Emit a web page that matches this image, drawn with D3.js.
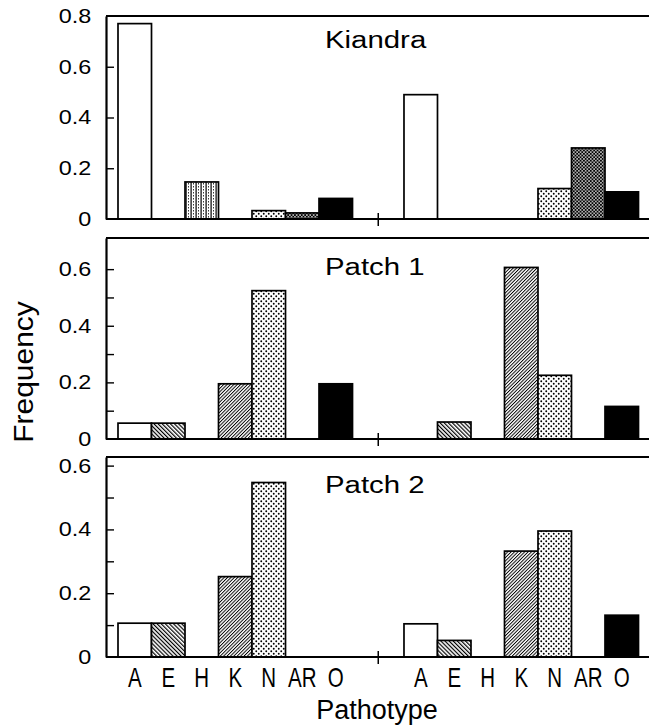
<!DOCTYPE html>
<html>
<head>
<meta charset="utf-8">
<script src="https://cdn.jsdelivr.net/npm/d3@7"></script>
<style>
  html, body { margin: 0; padding: 0; background: #fff; }
  svg { display: block; font-family: "Liberation Sans", Arial, Helvetica, sans-serif; }
  svg text { fill: #000; }
</style>
</head>
<body>
<svg id="chart" width="649" height="725"></svg>
<script>
'use strict';

// Pathotypes, in the order the bars are drawn inside each group.
var categories = ['A', 'E', 'H', 'K', 'N', 'AR', 'O'];
var panelNames = ['Kiandra', 'Patch 1', 'Patch 2'];

// Frequencies (left group, right group).
var kiandraLeft = [0.77, 0, 0.146, 0, 0.033, 0.024, 0.081];
var kiandraRight = [0.49, 0, 0, 0, 0.12, 0.28, 0.107];
var patch1Left = [0.056, 0.056, 0, 0.195, 0.524, 0, 0.195];
var patch1Right = [0, 0.06, 0, 0.606, 0.225, 0, 0.115];
var patch2Left = [0.106, 0.106, 0, 0.252, 0.547, 0, 0];
var patch2Right = [0.104, 0.052, 0, 0.332, 0.395, 0, 0.131];

// Tick values.
var kiandraLabels = [0, 0.2, 0.4, 0.6, 0.8];
var kiandraTicks = [0.2, 0.4, 0.6];
var patchLabels = [0, 0.2, 0.4, 0.6];
var patchTicks = [0.1, 0.2, 0.3, 0.4, 0.5, 0.6];

var xTitle = 'Pathotype';
var yTitle = 'Frequency';

(function() {
  var svg = d3.select('#chart'),
      defs = svg.append('defs'),
      plotLeft = 106,
      plotRight = 649,
      panels,
      xGroup,
      xCat,
      fills,
      dividerX,
      fmt;

  panels = [
    { name: panelNames[0], groups: [kiandraLeft, kiandraRight],
      top: 16, bottom: 219, max: 0.8, labels: kiandraLabels, ticks: kiandraTicks, titleY: 48 },
    { name: panelNames[1], groups: [patch1Left, patch1Right],
      top: 238, bottom: 439, max: 0.71, labels: patchLabels, ticks: patchTicks, titleY: 275 },
    { name: panelNames[2], groups: [patch2Left, patch2Right],
      top: 457, bottom: 657, max: 0.627, labels: patchLabels, ticks: patchTicks, titleY: 493 }
  ];

  xGroup = d3.scaleBand().domain([0, 1]).range([118, 638.5]).paddingInner(0.18);
  xCat = d3.scaleBand().domain(categories).range([0, xGroup.bandwidth()]);
  dividerX = xGroup(0) + xGroup.bandwidth() + (xGroup.step() - xGroup.bandwidth()) / 2;

  fmt = function(d) {
    return d === 0 ? '0' : d3.format('.1f')(d);
  };

  /**
   * Hatch of parallel lines, rotated.
   */
  function hatch(id, gap, width, angle) {
    var p = defs.append('pattern')
      .attr('id', id)
      .attr('patternUnits', 'userSpaceOnUse')
      .attr('width', gap)
      .attr('height', gap)
      .attr('patternTransform', 'rotate(' + angle + ')');
    p.append('rect').attr('width', gap).attr('height', gap).attr('fill', '#fff');
    p.append('rect').attr('width', width).attr('height', gap).attr('fill', '#000');
  }

  hatch('pat-e', 2.9, 1.2, -45);
  hatch('pat-k', 2.4, 0.95, 45);

  // H: solid vertical lines with dotted ones in between.
  (function() {
    var p = defs.append('pattern')
      .attr('id', 'pat-h')
      .attr('patternUnits', 'userSpaceOnUse')
      .attr('width', 5)
      .attr('height', 3);
    p.append('rect').attr('width', 5).attr('height', 3).attr('fill', '#fff');
    p.append('rect').attr('x', 0.5).attr('width', 1.2).attr('height', 3).attr('fill', '#000');
    p.append('rect').attr('x', 3).attr('width', 0.9).attr('height', 1.5).attr('fill', '#222');
  })();

  // N: sparse staggered dots.
  (function() {
    var p = defs.append('pattern')
      .attr('id', 'pat-n')
      .attr('patternUnits', 'userSpaceOnUse')
      .attr('width', 5)
      .attr('height', 5);
    p.append('rect').attr('width', 5).attr('height', 5).attr('fill', '#fff');
    [[1.25, 1.25], [3.75, 3.75]].forEach(function(c) {
      p.append('circle').attr('cx', c[0]).attr('cy', c[1]).attr('r', 0.95).attr('fill', '#000');
    });
  })();

  // AR: dense dark check with white holes.
  (function() {
    var p = defs.append('pattern')
      .attr('id', 'pat-ar')
      .attr('patternUnits', 'userSpaceOnUse')
      .attr('width', 3.4)
      .attr('height', 3.4);
    p.append('rect').attr('width', 3.4).attr('height', 3.4).attr('fill', '#000');
    [[0.85, 0.85], [2.55, 2.55]].forEach(function(c) {
      p.append('circle').attr('cx', c[0]).attr('cy', c[1]).attr('r', 0.8).attr('fill', '#fff');
    });
  })();

  fills = d3.scaleOrdinal()
    .domain(categories)
    .range(['#fff', 'url(#pat-e)', 'url(#pat-h)', 'url(#pat-k)', 'url(#pat-n)', 'url(#pat-ar)', '#000']);

  panels.forEach(function(panel) {
    var g = svg.append('g').attr('class', 'panel'),
        y = d3.scaleLinear().domain([0, panel.max]).range([panel.bottom, panel.top]),
        bars = [];

    panel.groups.forEach(function(values, gi) {
      values.forEach(function(v, ci) {
        bars.push({ group: gi, cat: categories[ci], value: v });
      });
    });

    g.selectAll('rect.bar')
      .data(bars.filter(function(d) { return d.value > 0; }))
      .enter().append('rect')
      .attr('class', 'bar')
      .attr('x', function(d) { return xGroup(d.group) + xCat(d.cat); })
      .attr('y', function(d) { return y(d.value); })
      .attr('width', xCat.bandwidth())
      .attr('height', function(d) { return y(0) - y(d.value); })
      .attr('fill', function(d) { return fills(d.cat); })
      .attr('stroke', '#000')
      .attr('stroke-width', 1.7);

    // inner ticks
    g.append('g')
      .attr('transform', 'translate(' + plotLeft + ',0)')
      .call(d3.axisLeft(y).tickValues(panel.ticks).tickSizeInner(-8).tickSizeOuter(0).tickFormat(''))
      .call(function(a) {
        a.select('.domain').remove();
        a.selectAll('line').attr('stroke-width', 1.4);
      });

    // labelled axis
    g.append('g')
      .attr('transform', 'translate(' + plotLeft + ',0)')
      .call(d3.axisLeft(y).tickValues(panel.labels).tickSize(0).tickPadding(12.5).tickFormat(fmt))
      .call(function(a) {
        a.select('.domain').attr('stroke-width', 2.2);
        a.selectAll('text')
          .attr('font-size', 20)
          .attr('font-family', '"Liberation Sans", Arial, sans-serif')
          .attr('fill', '#000')
          .attr('transform', 'scale(1.17,1)');
      });

    // top frame and baseline
    [panel.top, panel.bottom].forEach(function(yy) {
      g.append('line')
        .attr('x1', plotLeft).attr('x2', plotRight)
        .attr('y1', yy).attr('y2', yy)
        .attr('stroke', '#000').attr('stroke-width', 2.2);
    });

    // divider tick between the two groups
    g.append('line')
      .attr('x1', dividerX).attr('x2', dividerX)
      .attr('y1', panel.bottom - 6).attr('y2', panel.bottom + 7)
      .attr('stroke', '#000').attr('stroke-width', 1.5);

    g.append('text')
      .attr('transform', 'translate(325,' + panel.titleY + ') scale(1.25,1)')
      .attr('font-size', 23.5)
      .text(panel.name);
  });

  // category labels under the bottom panel
  [0, 1].forEach(function(gi) {
    svg.append('g').selectAll('text')
      .data(categories)
      .enter().append('text')
      .attr('transform', function(d) {
        return 'translate(' + (xGroup(gi) + xCat(d) + xCat.bandwidth() / 2) + ',687) scale(0.72,1)';
      })
      .attr('text-anchor', 'middle')
      .attr('font-size', 28.5)
      .text(function(d) { return d; });
  });

  svg.append('text')
    .attr('x', 377)
    .attr('y', 719)
    .attr('text-anchor', 'middle')
    .attr('font-size', 27)
    .text(xTitle);

  svg.append('text')
    .attr('transform', 'translate(33,372) rotate(-90) scale(1.07,1)')
    .attr('text-anchor', 'middle')
    .attr('font-size', 28)
    .text(yTitle);
})();
</script>
</body>
</html>
